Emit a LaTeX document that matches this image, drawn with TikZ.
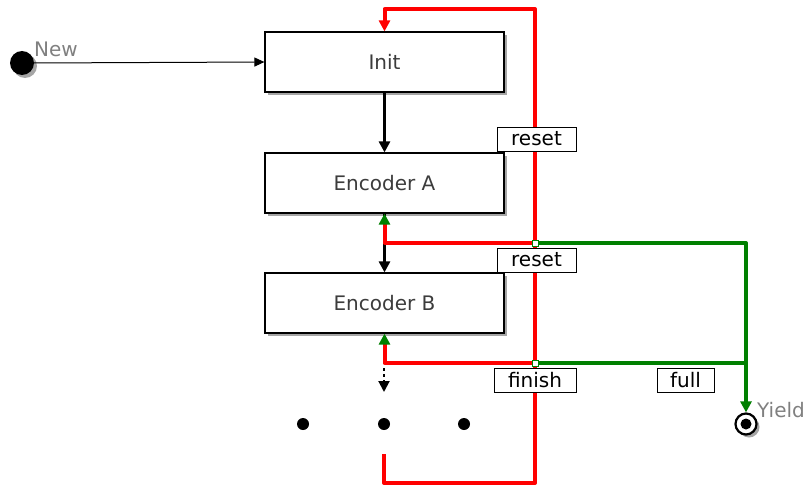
\documentclass[tikz,border=0pt]{standalone}
\usepackage{fontspec}
\setmainfont{DejaVu Sans}
\usetikzlibrary{arrows.meta,shadows}
\definecolor{myred}{RGB}{255,0,0}
\definecolor{mygreen}{RGB}{0,128,0}
\definecolor{txtgray}{RGB}{60,60,60}
\begin{document}
\begin{tikzpicture}[x=1pt,y=-1pt,
  statebox/.style={draw=black,line width=1.2pt,fill=white,minimum width=239pt,minimum height=60pt,inner sep=0pt,
     font=\fontsize{20}{24}\selectfont,text=txtgray,
     drop shadow={shadow xshift=3pt,shadow yshift=-3pt,opacity=0.35,fill=black}},
  lbl/.style={draw=black,line width=1pt,fill=white,minimum height=24pt,inner sep=0pt,font=\fontsize{20}{24}\selectfont,text=black},
  blk/.style={line width=3pt,draw=black,-{Triangle[length=11pt,width=11pt]}},
  redl/.style={line width=4pt,draw=myred},
  grnl/.style={line width=4pt,draw=mygreen},
  dotn/.style={circle,fill=black,minimum size=12pt,inner sep=0pt},
  side/.style={font=\fontsize{20}{24}\selectfont,text=gray,inner sep=0pt}
]
\useasboundingbox (0,0) rectangle (808,487);

% states
\node[statebox] (init) at (384.5,62) {Init};
\node[statebox] (enca) at (384.5,183) {Encoder A};
\node[statebox] (encb) at (384.5,303) {Encoder B};

% start
\node[circle,fill=black,minimum size=24pt,inner sep=0pt,
  drop shadow={shadow xshift=3pt,shadow yshift=-3pt,opacity=0.35,fill=black}] (start) at (22,63) {};
\node[side,anchor=west] (newl) at (34,49) {New};

% yield
\node[circle,draw=black,line width=2.2pt,fill=white,minimum size=21pt,inner sep=0pt,
  drop shadow={shadow xshift=3pt,shadow yshift=-3pt,opacity=0.35,fill=black}] (yield) at (746,424) {};
\node[dotn,minimum size=11pt] (yc) at (746,424) {};
\node[side,anchor=west] (yl) at (757,410) {Yield};

% coordinates
\coordinate (rs) at (384,454);
\coordinate (rc) at (535,483);
\coordinate (rtr) at (535,9);
\coordinate (ja) at (535,243);
\coordinate (jb) at (535,363);
\coordinate (da) at (384,368);
\coordinate (db) at (384,392);

% new arrow
\draw[line width=1pt,-{Triangle[length=10pt,width=9pt]}] (start.east) -- (init.west);

% black arrows
\draw[blk] (init.south) -- (enca.north);
\draw[blk] (enca.south) -- (encb.north);
\draw[line width=2pt,dash pattern=on 3pt off 3pt,-{Triangle[length=11pt,width=11pt]}] (da) -- (db);

% red lines
\draw[redl,line join=round,-{Triangle[length=11pt,width=11pt]}] (rs) |- (rc) -- (rtr) -| (init.north);
\draw[redl,line join=round,-{Triangle[length=11pt,width=11pt,color=mygreen]}] (ja) -| (enca.south);
\draw[redl,line join=round,-{Triangle[length=11pt,width=11pt,color=mygreen]}] (jb) -| (encb.south);

% green lines
\draw[grnl,line join=round,-{Triangle[length=11pt,width=11pt]}] (ja) -| (yield.north);
\draw[grnl] (jb) -- (jb -| yield);

% junction markers
\draw[draw=mygreen,line width=0.8pt,fill=white] (532,240) rectangle (538,246);
\draw[draw=mygreen,line width=0.8pt,fill=white] (532,360) rectangle (538,366);

% labels
\node[lbl,minimum width=79pt] (l1) at (536.5,139) {reset};
\node[lbl,minimum width=79pt] (l2) at (536.5,260) {reset};
\node[lbl,minimum width=82pt] (l3) at (535,380) {finish};
\node[lbl,minimum width=57pt] (l4) at (685.5,380) {full};

% dots
\node[dotn] (d1) at (303,424) {};
\node[dotn] (d2) at (384,424) {};
\node[dotn] (d3) at (464,424) {};
\end{tikzpicture}
\end{document}
